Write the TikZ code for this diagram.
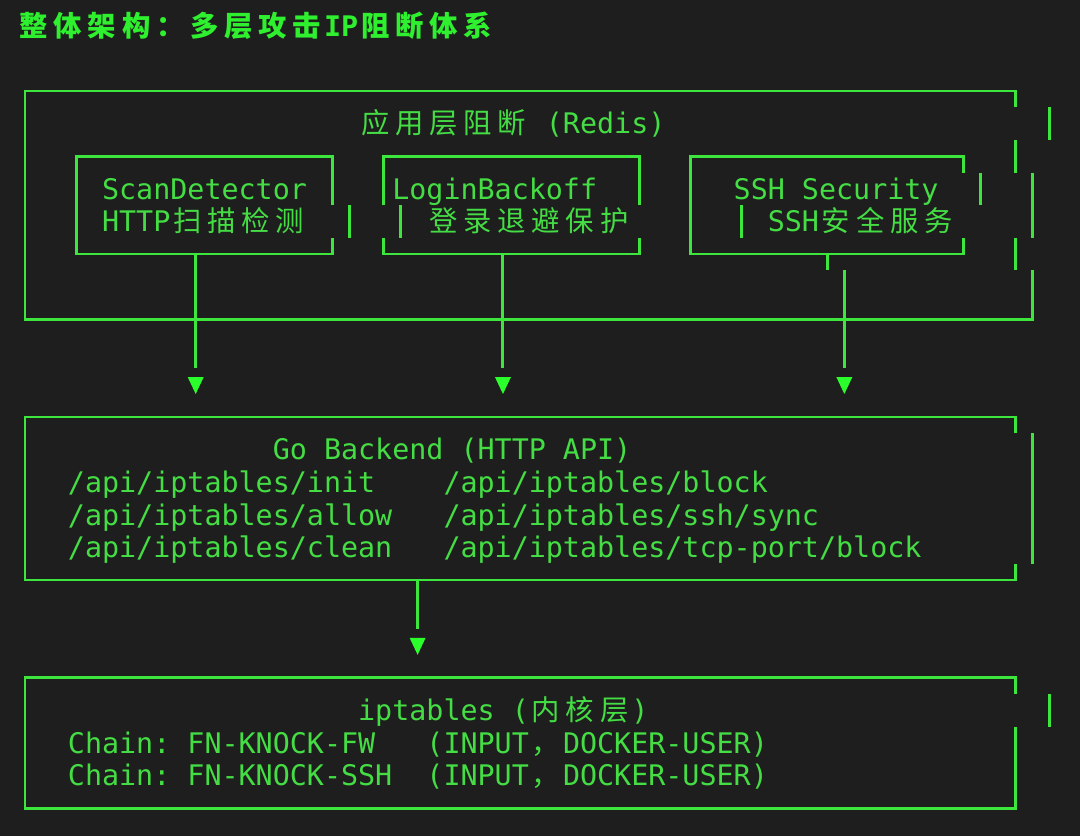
\documentclass[tikz,border=0pt]{standalone}
\usepackage{fontspec}
\setmonofont{DejaVu Sans Mono}
\newfontfamily\cjk{Noto Sans CJK SC}
\definecolor{termbg}{HTML}{1E1E1E}
\definecolor{termline}{HTML}{3CE63C}
\definecolor{termtext}{HTML}{44DD44}
\definecolor{termhead}{HTML}{2EF02E}
\definecolor{termtip}{HTML}{2BFF2B}
\newlength\zhcell
\setlength\zhcell{0.8535cm}
\def\zhstop{}
\def\zhloop#1{\ifx#1\zhstop\else\makebox[\zhcell]{\cjk#1}\expandafter\zhloop\fi}
\newcommand\zh[1]{\zhloop#1\zhstop}

\begin{document}
\begin{tikzpicture}[x=0.42675cm,y=-0.815cm,
    box/.style={termline,line width=2.1pt},
    txt/.style={anchor=west,inner sep=0pt,text height=14.7pt,text depth=0pt,text=termtext,
      font=\ttfamily\fontsize{20.17}{24}\selectfont},
    head/.style={txt,text=termhead,font=\ttfamily\bfseries\fontsize{20.17}{24}\selectfont},
    downtip/.pic={\fill[termtip] (-0.47,-0.227) -- (0.47,-0.227) -- (0,0.294) -- cycle;}]
        \fill[termbg] (-1.4646,-2.7914) rectangle (61.804,22.853);
        \useasboundingbox (-1.4646,-2.7914) rectangle (61.804,22.853);
        \node[head] (title) at (-0.5,-2) {\zh{整体架构：多层攻击}IP\zh{阻断体系}};

        \draw[box] (58,0.5) -- (58,0) -- (0,0) -- (0,7) -- (59,7) -- (59,5.5);
        \draw[box] (60,0.5) -- (60,1.5);
        \draw[box] (58,1.5) -- (58,2.5);
        \draw[box] (59,2.5) -- (59,4.5);
        \draw[box] (58,4.5) -- (58,5.5);
        \node[txt] (applayer) at (19.5,1) {\zh{应用层阻断} (Redis)};

        \draw[box] (18,3.5) -- (18,2) -- (3,2) -- (3,5) -- (18,5) -- (18,4.5);
        \draw[box] (19,3.5) -- (19,4.5);
        \node[txt] (scan) at (4.5,3) {ScanDetector};
        \node[txt] (scanzh) at (4.5,4) {HTTP\zh{扫描检测}};

        \draw[box] (21,3.5) -- (21,2) -- (36,2) -- (36,3.5);
        \draw[box] (21,4.5) -- (21,5) -- (36,5) -- (36,4.5);
        \draw[box] (22,3.5) -- (22,4.5);
        \node[txt] (login) at (21.5,3) {LoginBackoff};
        \node[txt] (loginzh) at (23.5,4) {\zh{登录退避保护}};

        \draw[box] (55,2.5) -- (55,2) -- (39,2) -- (39,5) -- (55,5) -- (55,4.5);
        \draw[box] (56,2.5) -- (56,3.5);
        \draw[box] (42,3.5) -- (42,4.5);
        \node[txt] (ssh) at (41.5,3) {SSH Security};
        \node[txt] (sshzh) at (43.5,4) {SSH\zh{安全服务}};

        \coordinate (scan-out) at (10,5);
        \coordinate (scan-end) at (10,8.5);
        \coordinate (login-out) at (28,5);
        \coordinate (login-end) at (28,8.5);
        \coordinate (ssh-out) at (47,5);
        \coordinate (ssh-bend) at (47,5.5);
        \coordinate (ssh-in) at (48,5.5);
        \coordinate (ssh-end) at (48,8.5);
        \draw[box] (scan-out) -- (scan-end);
        \draw[box] (login-out) -- (login-end);
        \draw[box] (ssh-out) -- (ssh-bend);
        \draw[box] (ssh-in) -- (ssh-end);
        \pic at (10,9) {downtip};
        \pic at (28,9) {downtip};
        \pic at (48,9) {downtip};

        \draw[box] (58,10.5) -- (58,10) -- (0,10) -- (0,15) -- (58,15) -- (58,14.5);
        \draw[box] (59,10.5) -- (59,14.5);
        \node[txt] (backend) at (14.5,11) {Go Backend (HTTP API)};
        \node[txt] (init) at (2.5,12) {/api/iptables/init};
        \node[txt] (allow) at (2.5,13) {/api/iptables/allow};
        \node[txt] (clean) at (2.5,14) {/api/iptables/clean};
        \node[txt] (block) at (24.5,12) {/api/iptables/block};
        \node[txt] (sync) at (24.5,13) {/api/iptables/ssh/sync};
        \node[txt] (tcpblock) at (24.5,14) {/api/iptables/tcp-port/block};

        \coordinate (backend-out) at (23,15);
        \coordinate (backend-end) at (23,16.5);
        \draw[box] (backend-out) -- (backend-end);
        \pic at (23,17) {downtip};

        \draw[box] (58,18.5) -- (58,18) -- (0,18) -- (0,22) -- (58,22) -- (58,19.5);
        \draw[box] (60,18.5) -- (60,19.5);
        \node[txt] (kernel) at (19.5,19) {iptables (\zh{内核层})};
        \node[txt] (fwchain) at (2.5,20) {Chain: FN-KNOCK-FW};
        \node[txt] (fwhook) at (23.5,20) {(INPUT\zh{，}DOCKER-USER)};
        \node[txt] (sshchain) at (2.5,21) {Chain: FN-KNOCK-SSH};
        \node[txt] (sshhook) at (23.5,21) {(INPUT\zh{，}DOCKER-USER)};
      \end{tikzpicture}
\end{document}
